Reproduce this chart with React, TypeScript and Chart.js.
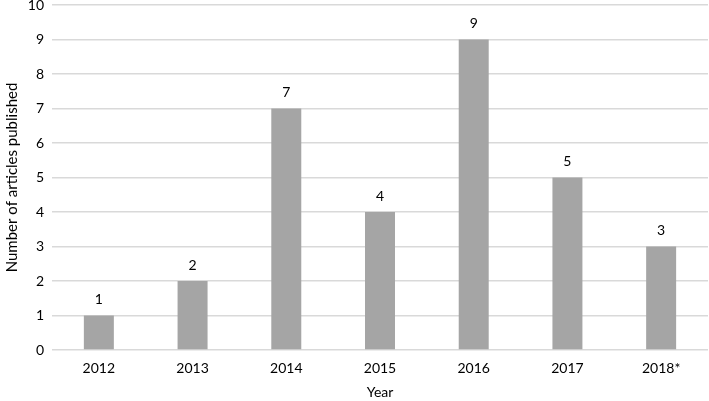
import React, { useEffect, useRef } from "react";
import { Chart, registerables } from "chart.js";

Chart.register(...registerables);

const categories = ["2012", "2013", "2014", "2015", "2016", "2017", "2018*"];
const articles = [1, 2, 7, 4, 9, 5, 3];
const yTicks = [0, 1, 2, 3, 4, 5, 6, 7, 8, 9, 10];

const FONT = "Lato, 'Open Sans', sans-serif";

const valueLabels = {
  id: "valueLabels",
  afterDatasetsDraw(chart: any) {
    const { ctx } = chart;
    const meta = chart.getDatasetMeta(0);
    ctx.save();
    ctx.font = `14px ${FONT}`;
    ctx.fillStyle = "#000000";
    ctx.textAlign = "center";
    ctx.textBaseline = "bottom";
    meta.data.forEach((bar: any, i: number) => {
      ctx.fillText(String(chart.data.datasets[0].data[i]), bar.x, bar.y - 9);
    });
    ctx.restore();
  },
};

export default function App() {
  const ref = useRef<HTMLCanvasElement | null>(null);
  useEffect(() => {
    document.body.style.margin = "0";
    const chart = new Chart(ref.current!, {
      type: "bar",
      data: {
        labels: categories,
        datasets: [
          {
            data: articles,
            backgroundColor: "#a5a5a5",
            borderWidth: 0,
            categoryPercentage: 1,
            barPercentage: 0.32,
          },
        ],
      },
      options: {
        animation: false,
        responsive: false,
        maintainAspectRatio: false,
        layout: { padding: { top: 0, right: 1, left: 0, bottom: 0 } },
        plugins: {
          legend: { display: false },
          tooltip: { enabled: false },
        },
        scales: {
          x: {
            grid: { display: false, drawTicks: false },
            border: { display: false },
            ticks: {
              color: "#000000",
              font: { family: FONT, size: 14 },
              padding: 10,
            },
            title: {
              display: true,
              text: "Year",
              color: "#000000",
              font: { family: FONT, size: 14 },
              padding: { top: 2, bottom: 0 },
            },
            afterFit: (s: any) => {
              s.height = 51;
              s.paddingLeft = 0;
              s.paddingRight = 0;
            },
          },
          y: {
            min: 0,
            max: 10,
            afterBuildTicks: (s: any) => {
              s.ticks = yTicks.map((v) => ({ value: v }));
            },
            grid: { color: "#d9d9d9", lineWidth: 1.5, drawTicks: false },
            border: { display: false },
            ticks: {
              color: "#000000",
              font: { family: FONT, size: 14 },
              padding: 8,
            },
            title: {
              display: true,
              text: "Number of articles published",
              color: "#000000",
              font: { family: FONT, size: 15 },
              padding: { top: 3, bottom: 4 },
            },
            afterFit: (s: any) => {
              s.width = 52;
              s.paddingTop = 5;
              s.paddingBottom = 0;
            },
          },
        },
      },
      plugins: [valueLabels],
    });
    return () => chart.destroy();
  }, []);
  return (
    <div style={{ width: 709, height: 401 }}>
      <canvas ref={ref} width={709} height={401} style={{ display: "block" }} />
    </div>
  );
}
